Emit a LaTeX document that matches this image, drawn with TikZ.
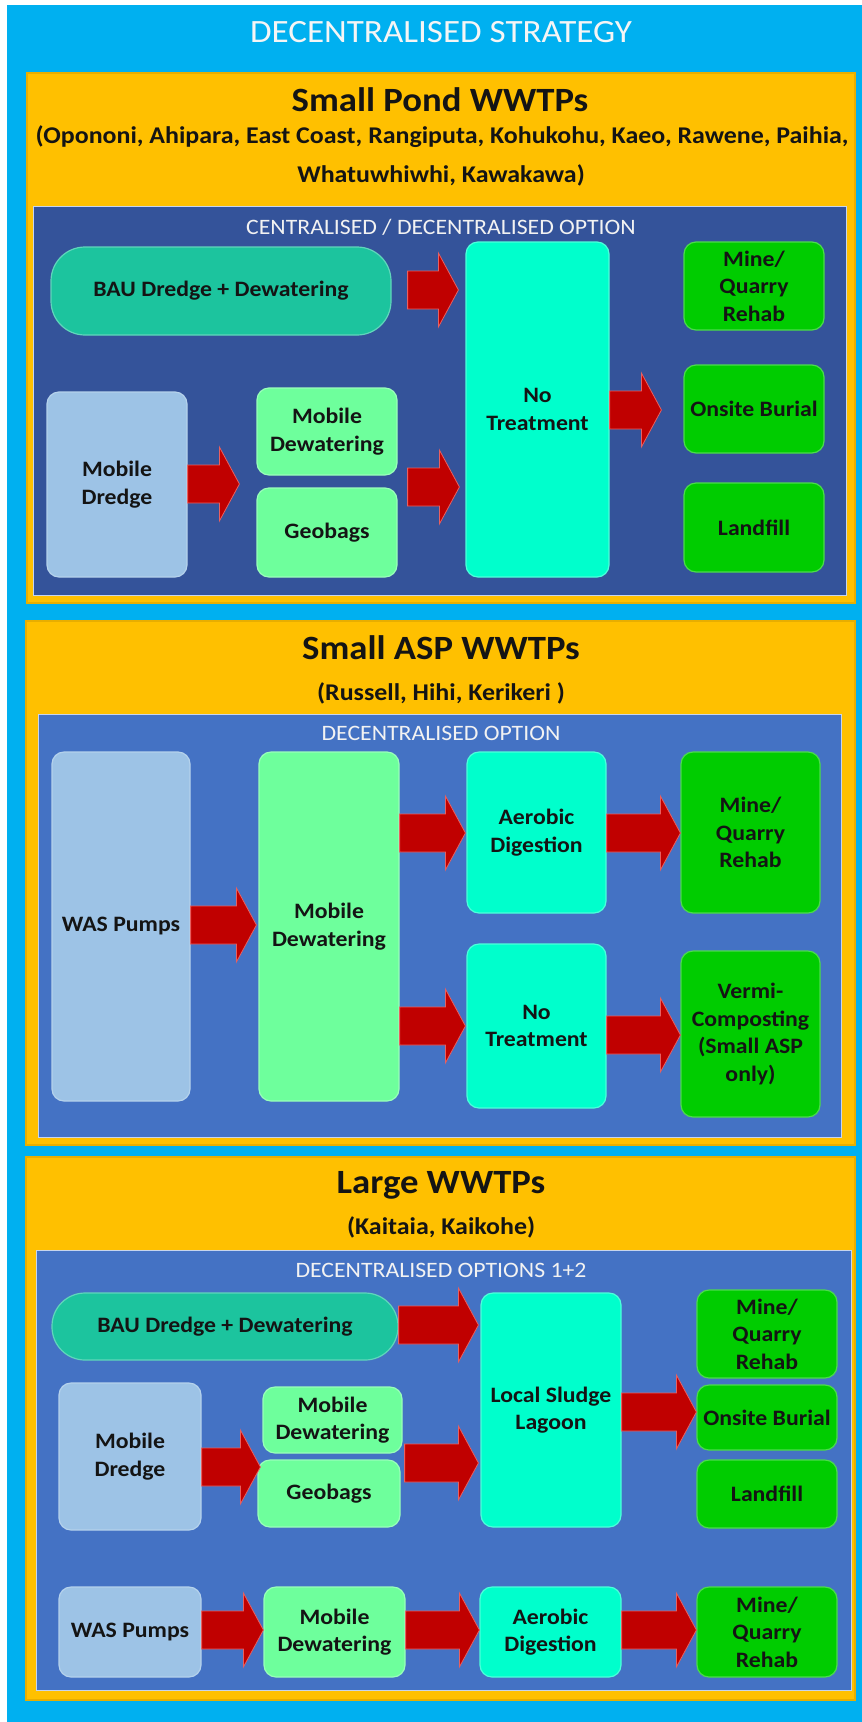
\documentclass[tikz,border=0pt]{standalone}
\usepackage{fontspec}
\setmainfont{Carlito}[FakeStretch=1.08]
\usetikzlibrary{calc}
\definecolor{outerblue}{HTML}{00B0F0}
\definecolor{orng}{HTML}{FFC000}
\definecolor{orngedge}{HTML}{E8AE00}
\definecolor{navy}{HTML}{34539A}
\definecolor{midblue}{HTML}{4472C4}
\definecolor{paleblue}{HTML}{9DC3E6}
\definecolor{mint}{HTML}{6EFF9C}
\definecolor{aquac}{HTML}{00FFCC}
\definecolor{grn}{HTML}{00CC00}
\definecolor{tealc}{HTML}{1CC49E}
\definecolor{arrred}{HTML}{C00000}
\definecolor{arredge}{HTML}{E86060}
\definecolor{txt}{HTML}{141414}
\newcommand{\bx}[7]{\node[#2, minimum width=#5pt, minimum height=#6pt] (#1) at (#3,#4) {#7};}
\newcommand{\barrow}[5]{%
  \filldraw[blockarrow] let \p1=(#1.east), \p2=(#3.west), \p3=(0,#5) in
    (\x1+#2pt, \y3+19pt) -- (\x2-#4pt-20pt, \y3+19pt) -- (\x2-#4pt-20pt, \y3+37pt)
    -- (\x2-#4pt, \y3) -- (\x2-#4pt-20pt, \y3-37pt) -- (\x2-#4pt-20pt, \y3-19pt)
    -- (\x1+#2pt, \y3-19pt) -- cycle;}
\begin{document}
\begin{tikzpicture}[x=1pt,y=-1pt,
  boxbase/.style={rounded corners=12pt, line width=1.2pt, align=center, inner sep=2pt,
    text=txt, font=\fontsize{22}{27.5}\selectfont\bfseries},
  bxpale/.style={boxbase, fill=paleblue, draw=paleblue!75!white},
  bxmint/.style={boxbase, fill=mint, draw=mint!70!white},
  bxaqua/.style={boxbase, fill=aquac, draw=aquac!70!white},
  bxgreen/.style={boxbase, fill=grn, draw=grn!70!white},
  bxteal/.style={boxbase, fill=tealc, draw=tealc!70!white},
  blockarrow/.style={fill=arrred, draw=arredge, line width=0.8pt, line join=miter},
  orangebox/.style={fill=orng, draw=orngedge, line width=1.2pt},
  innerbox/.style={draw=white!70!midblue, line width=1pt},
  heading/.style={text=txt, font=\fontsize{34}{40}\selectfont\bfseries, inner sep=0pt},
  subhead/.style={text=txt, font=\fontsize{24}{28}\selectfont\bfseries, inner sep=0pt},
  optlabel/.style={text=white!95!black, font=\fontsize{22}{26}\selectfont, inner sep=0pt},
]
\useasboundingbox (0,0) rectangle (862,1722);
\fill[white] (0,0) rectangle (862,1722);
\fill[outerblue] (7,5) rectangle (862,1722);
\node[text=white!96!black, font=\fontsize{32.5}{38}\selectfont, inner sep=0pt] (title) at (441,32) {DECENTRALISED STRATEGY};

% ---------------- Section 1 ----------------
\draw[orangebox] (27,73) rectangle (855,603);
\node[heading] (h1) at (440,100) {Small Pond WWTPs};
\node[subhead] (s1a) at (442,137) {(Opononi, Ahipara, East Coast, Rangiputa, Kohukohu, Kaeo, Rawene, Paihia,};
\node[subhead] (s1b) at (441,175) {Whatuwhiwhi, Kawakawa)};
\filldraw[innerbox, fill=navy] (33,206) rectangle (846,595);
\node[optlabel] (o1) at (441,227) {CENTRALISED / DECENTRALISED OPTION};

\bx{bau1}{bxteal, rounded corners=34pt}{221}{291}{340}{88}{BAU Dredge + Dewatering}
\bx{nt1}{bxaqua}{537.5}{409.5}{143}{335}{No\\Treatment}
\bx{mq1}{bxgreen}{754}{286}{140}{88}{Mine/\\Quarry\\Rehab}
\bx{ob1}{bxgreen}{754}{409}{140}{88}{Onsite Burial}
\bx{lf1}{bxgreen}{754}{527.5}{140}{89}{Landfill}
\bx{md1}{bxpale}{117}{484.5}{140}{185}{Mobile\\Dredge}
\bx{mdw1}{bxmint}{327}{431.5}{140}{87}{Mobile\\Dewatering}
\bx{gb1}{bxmint}{327}{532.5}{140}{89}{Geobags}

\barrow{bau1}{16}{nt1}{7}{290}
\barrow{nt1}{0}{ob1}{22}{410}
\barrow{md1}{0}{mdw1}{17}{484}
\barrow{mdw1}{10}{nt1}{6}{487}

% ---------------- Section 2 ----------------
\draw[orangebox] (26,621) rectangle (855,1145);
\node[heading] (h2) at (441,648) {Small ASP WWTPs};
\node[subhead] (s2a) at (441,693) {(Russell, Hihi, Kerikeri )};
\filldraw[innerbox, fill=midblue] (38,714) rectangle (841,1137);
\node[optlabel] (o2) at (441,733) {DECENTRALISED OPTION};

\bx{was2}{bxpale}{121}{926.5}{138}{349}{WAS Pumps}
\bx{mdw2}{bxmint}{329}{926.5}{140}{349}{Mobile\\Dewatering}
\bx{ad2}{bxaqua}{536.5}{832.5}{139}{161}{Aerobic\\Digestion}
\bx{mq2}{bxgreen}{750.5}{832.5}{139}{161}{Mine/\\Quarry\\Rehab}
\bx{nt2}{bxaqua}{536.5}{1026}{139}{164}{No\\Treatment}
\bx{vc2}{bxgreen}{750.5}{1034}{139}{166}{Vermi-\\Composting\\(Small ASP\\only)}

\barrow{was2}{0}{mdw2}{2}{925}
\barrow{mdw2}{0}{ad2}{1}{833}
\barrow{ad2}{0}{mq2}{0}{833}
\barrow{mdw2}{0}{nt2}{1}{1026}
\barrow{nt2}{0}{vc2}{0}{1035}

% ---------------- Section 3 ----------------
\draw[orangebox] (26,1157) rectangle (855,1700);
\node[heading] (h3) at (441,1185) {Large WWTPs};
\node[subhead] (s3a) at (441,1227) {(Kaitaia, Kaikohe)};
\filldraw[innerbox, fill=midblue] (36,1250) rectangle (851,1690);
\node[optlabel] (o3) at (441,1270) {DECENTRALISED OPTIONS 1+2};

\bx{bau3}{bxteal, rounded corners=33pt}{225}{1326.5}{346}{67}{BAU Dredge + Dewatering}
\bx{lsl}{bxaqua}{551}{1410}{140}{234}{Local Sludge\\Lagoon}
\bx{mq3}{bxgreen}{767}{1334}{140}{88}{Mine/\\Quarry\\Rehab}
\bx{ob3}{bxgreen}{767}{1417.5}{140}{65}{Onsite Burial}
\bx{lf3}{bxgreen}{767}{1494}{140}{68}{Landfill}
\bx{md3}{bxpale}{130}{1456.5}{142}{147}{Mobile\\Dredge}
\bx{mdw3}{bxmint}{332.5}{1420}{139}{66}{Mobile\\Dewatering}
\bx{gb3}{bxmint}{329}{1493.5}{142}{67}{Geobags}
\bx{was3}{bxpale}{130}{1632}{142}{90}{WAS Pumps}
\bx{mdw3b}{bxmint}{334.5}{1632}{141}{90}{Mobile\\Dewatering}
\bx{ad3}{bxaqua}{550.5}{1632}{141}{90}{Aerobic\\Digestion}
\bx{mq3b}{bxgreen}{767}{1632}{140}{90}{Mine/\\Quarry\\Rehab}

\barrow{bau3}{0}{lsl}{2}{1325}
\barrow{lsl}{0}{ob3}{0}{1412}
\barrow{md3}{0}{mdw3}{2}{1467}
\barrow{mdw3}{2}{lsl}{2}{1463}
\barrow{was3}{0}{mdw3b}{0}{1630}
\barrow{mdw3b}{0}{ad3}{0}{1630}
\barrow{ad3}{0}{mq3b}{0}{1630}
\end{tikzpicture}
\end{document}
